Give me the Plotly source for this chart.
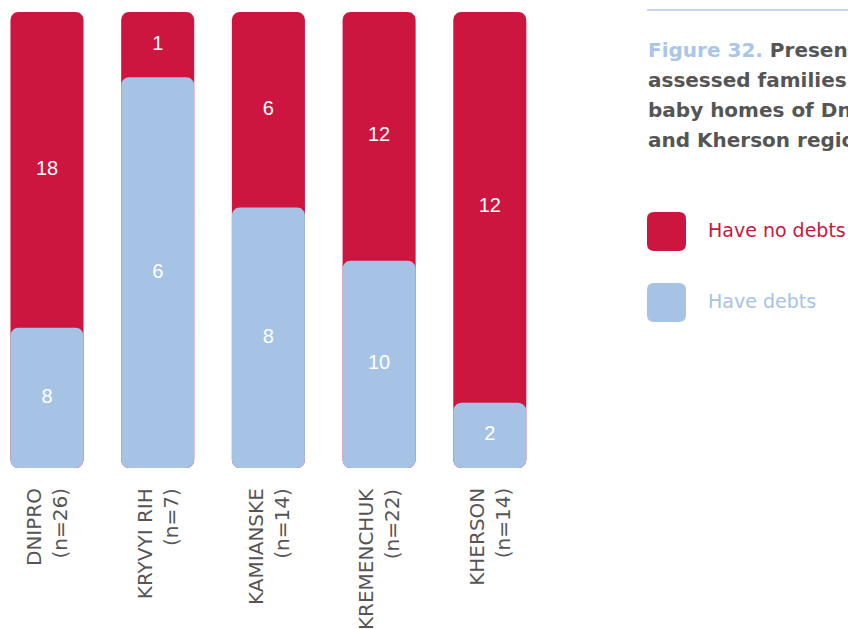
import math
import plotly.graph_objects as go

# ---- data ----
categories = ["DNIPRO", "KRYVYI RIH", "KAMIANSKE", "KREMENCHUK", "KHERSON"]
sample_n = [26, 7, 14, 22, 14]
no_debts = [18, 1, 6, 12, 12]
debts = [8, 6, 8, 10, 2]
series_names = ["Have no debts", "Have debts"]

RED = "#CC1640"
BLUE = "#A6C3E6"
GREY = "#555555"
W, H = 848, 629

# plot-area geometry (pixels)
PLOT_L, PLOT_R = 0, 560
PLOT_T, PLOT_B = 12, 468
px0, step = 47.0, 110.7
x_left = (PLOT_L - px0) / step
x_right = (PLOT_R - px0) / step
px_per_x = step
px_per_y = (PLOT_B - PLOT_T) / 100.0
BAR_W = 0.66
R_PX = 8

xs = list(range(len(categories)))
debt_pct = [d / n * 100 for d, n in zip(debts, sample_n)]
total_pct = [100.0 for _ in categories]


def rounded_rects(centers, tops):
    """Polygon outlines (data coords) of rounded bars from 0 to each top."""
    rx = R_PX / px_per_x
    ry = R_PX / px_per_y
    X, Y = [], []
    for c, t in zip(centers, tops):
        x0, x1 = c - BAR_W / 2, c + BAR_W / 2
        y0, y1 = 0.0, t
        corners = [(x1 - rx, y1 - ry, 0), (x0 + rx, y1 - ry, 90),
                   (x0 + rx, y0 + ry, 180), (x1 - rx, y0 + ry, 270)]
        for cx, cy, a0 in corners:
            for k in range(9):
                a = math.radians(a0 + 90 * k / 8)
                X.append(cx + rx * math.cos(a))
                Y.append(cy + ry * math.sin(a))
        X.append(X[-36]); Y.append(Y[-36])
        X.append(None); Y.append(None)
    return X, Y


fig = go.Figure()
for tops, col in [(total_pct, RED), (debt_pct, BLUE)]:
    bx, by = rounded_rects(xs, tops)
    fig.add_trace(go.Scatter(x=bx, y=by, mode="lines", fill="toself", fillcolor=col,
                             line=dict(width=0, color=col), hoverinfo="skip",
                             showlegend=False))

# value labels
red_mid = [(p + 100) / 2 for p in debt_pct]
blue_mid = [p / 2 for p in debt_pct]
fig.add_trace(go.Scatter(x=xs, y=red_mid, mode="text", text=[str(v) for v in no_debts],
                         textfont=dict(color="white", size=20, family="Liberation Sans"),
                         hoverinfo="skip", showlegend=False))
fig.add_trace(go.Scatter(x=xs, y=blue_mid, mode="text", text=[str(v) for v in debts],
                         textfont=dict(color="white", size=20, family="Liberation Sans"),
                         hoverinfo="skip", showlegend=False))

# category labels (rotated)
annotations = []
for i, (c, n) in enumerate(zip(categories, sample_n)):
    annotations.append(dict(x=i, y=1 - 486 / H, xref="x", yref="paper",
                            text=f"{c}<br>(n={n})", textangle=-90, align="right",
                            showarrow=False, xanchor="center", yanchor="top",
                            font=dict(size=20, color=GREY, family="DejaVu Sans")))

# title
title_lines = [
    "<span style='color:#A9C6E8'>Figure 32.</span> Presence of debts in",
    "assessed families with children in",
    "baby homes of Dnipro, Kryvyi Rih,",
    "and Kherson regions",
]
for k, line in enumerate(title_lines):
    annotations.append(dict(x=646 / W, y=1 - (50 + 30 * k) / H, xref="paper", yref="paper",
                            text=f"<b>{line}</b>", showarrow=False, xanchor="left",
                            yanchor="middle", align="left",
                            font=dict(size=20, color=GREY, family="DejaVu Sans")))

# legend
shapes = [dict(type="line", xref="paper", yref="paper", x0=647 / W, x1=1.0,
               y0=1 - 10 / H, y1=1 - 10 / H, line=dict(color="#C3D7EF", width=2))]


def rr_path(x0, y0, x1, y1, r):
    Xp = lambda p: p / W
    Yp = lambda p: 1 - p / H
    return (f"M {Xp(x0+r)} {Yp(y0)} L {Xp(x1-r)} {Yp(y0)} Q {Xp(x1)} {Yp(y0)} {Xp(x1)} {Yp(y0+r)} "
            f"L {Xp(x1)} {Yp(y1-r)} Q {Xp(x1)} {Yp(y1)} {Xp(x1-r)} {Yp(y1)} "
            f"L {Xp(x0+r)} {Yp(y1)} Q {Xp(x0)} {Yp(y1)} {Xp(x0)} {Yp(y1-r)} "
            f"L {Xp(x0)} {Yp(y0+r)} Q {Xp(x0)} {Yp(y0)} {Xp(x0+r)} {Yp(y0)} Z")


for k, (name, col) in enumerate(zip(series_names, [RED, BLUE])):
    top = 212 + 71 * k
    shapes.append(dict(type="path", xref="paper", yref="paper",
                       path=rr_path(647, top, 686, top + 39, 7),
                       fillcolor=col, line=dict(width=0)))
    annotations.append(dict(x=706 / W, y=1 - (top + 18) / H, xref="paper", yref="paper",
                            text=name, showarrow=False, xanchor="left", yanchor="middle",
                            font=dict(size=19, color=col, family="DejaVu Sans")))

fig.update_layout(
    width=W, height=H,
    margin=dict(l=0, r=0, t=0, b=0),
    plot_bgcolor="white", paper_bgcolor="white",
    xaxis=dict(domain=[PLOT_L / W, PLOT_R / W], range=[x_left, x_right], showgrid=False,
               zeroline=False, showticklabels=False, ticks="", fixedrange=True),
    yaxis=dict(domain=[1 - PLOT_B / H, 1 - PLOT_T / H], range=[0, 100], showgrid=False,
               zeroline=False, showticklabels=False, ticks="", fixedrange=True),
    annotations=annotations,
    shapes=shapes,
    showlegend=False,
)

fig.write_html("out.html")
